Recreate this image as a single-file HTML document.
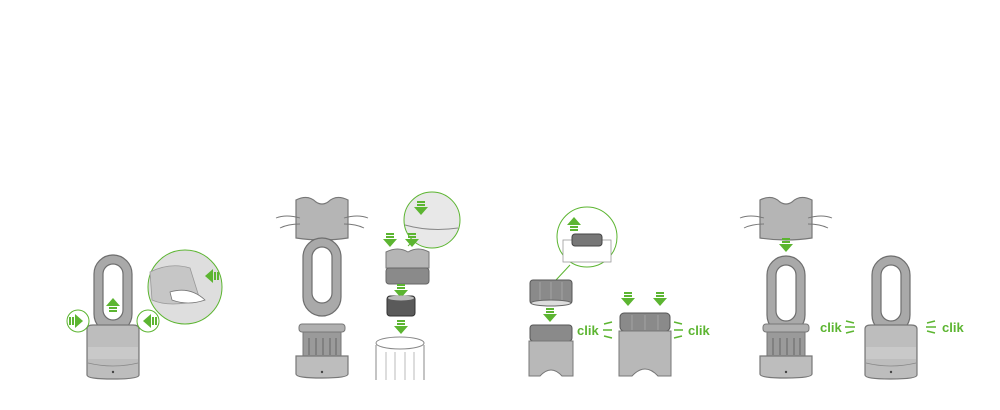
<!DOCTYPE html>
<html><head><meta charset="utf-8"><style>
html,body{margin:0;padding:0;background:#fff}
svg{display:block}
text{font-family:"Liberation Sans",sans-serif;font-weight:bold;fill:#5cb531;font-size:13px}
</style></head><body>
<svg width="1000" height="410" viewBox="0 0 1000 410" xmlns="http://www.w3.org/2000/svg">
<defs>
<g id="ad"><rect x="-4" y="-9" width="8" height="2" fill="#5cb531"/><rect x="-4" y="-6" width="8" height="2" fill="#5cb531"/><polygon points="-7,-3 7,-3 0,5" fill="#5cb531"/></g>
<g id="loop">
<rect x="-19" y="0" width="38" height="78" rx="19" fill="#a9a9a9" stroke="#6e6e6e" stroke-width="1.2"/>
<rect x="-10" y="9" width="20" height="56" rx="10" fill="#fff" stroke="#6e6e6e" stroke-width="1.2"/>
</g>
<g id="body">
<path d="M-26,4 Q-26,0 -20,0 L20,0 Q26,0 26,4 L26,50 Q26,54 0,54 Q-26,54 -26,50 Z" fill="#bdbdbd" stroke="#777" stroke-width="1.2"/>
<rect x="-25" y="22" width="50" height="12" fill="#c9c9c9"/>
<path d="M-25,38 Q0,44 25,38" fill="none" stroke="#888" stroke-width="0.8"/>
<circle cx="0" cy="47" r="1.2" fill="#444"/>
</g>
<g id="stripped">
<rect x="-23" y="0" width="46" height="8" rx="3" fill="#b0b0b0" stroke="#777"/>
<rect x="-19" y="8" width="38" height="24" fill="#9a9a9a" stroke="#777"/>
<g stroke="#666" stroke-width="1"><line x1="-13" y1="14" x2="-13" y2="31"/><line x1="-6" y1="14" x2="-6" y2="31"/><line x1="1" y1="14" x2="1" y2="31"/><line x1="8" y1="14" x2="8" y2="31"/><line x1="14" y1="14" x2="14" y2="31"/></g>
<path d="M-26,32 L26,32 L26,50 Q26,54 0,54 Q-26,54 -26,50 Z" fill="#bdbdbd" stroke="#777" stroke-width="1.2"/>
<circle cx="0" cy="48" r="1.2" fill="#444"/>
</g>
<g id="cap">
<path d="M-26,4 Q-14,-2 -6,6 Q0,10 6,6 Q14,-2 26,4 L26,42 Q0,46 -26,42 Z" fill="#b5b5b5" stroke="#777" stroke-width="1.2"/>
<path d="M-46,22 Q-36,18 -22,22 M-42,32 Q-34,28 -22,28 M46,22 Q36,18 22,22 M42,32 Q34,28 22,28" fill="none" stroke="#777" stroke-width="0.9"/>
</g>
</defs>

<!-- Section 1 -->
<use href="#loop" x="113" y="255"/>
<use href="#body" x="113" y="325"/>
<g transform="translate(113,303) rotate(180)"><use href="#ad"/></g>
<circle cx="78" cy="321" r="11" fill="#fff" stroke="#5cb531"/>
<g transform="translate(78,321) rotate(-90)"><use href="#ad"/></g>
<circle cx="148" cy="321" r="11" fill="#fff" stroke="#5cb531"/>
<g transform="translate(148,321) rotate(90)"><use href="#ad"/></g>
<circle cx="185" cy="287" r="37" fill="#dedede" stroke="#5cb531"/>
<path d="M150,272 Q170,262 190,268 L200,300 Q170,308 152,300 Z" fill="#c6c6c6" stroke="#999" stroke-width="0.8"/>
<path d="M170,292 Q190,286 205,300 Q188,306 172,300 Z" fill="#fff" stroke="#777" stroke-width="0.8"/>
<g transform="translate(210,276) rotate(90)"><use href="#ad"/></g>

<!-- Section 2 -->
<use href="#cap" x="322" y="196"/>
<g transform="translate(321,247) rotate(180)"><use href="#ad"/></g>
<use href="#loop" x="322" y="238"/>
<use href="#stripped" x="322" y="324"/>
<circle cx="432" cy="220" r="28" fill="#e8e8e8" stroke="#5cb531"/>
<path d="M405,225 Q430,232 458,228" fill="none" stroke="#888"/>
<use href="#ad" x="421" y="210"/>
<line x1="414" y1="240" x2="408" y2="246" stroke="#5cb531"/>
<use href="#ad" x="390" y="242"/><use href="#ad" x="412" y="242"/>
<path d="M386,252 Q398,246 408,252 Q418,246 429,252 L429,268 L386,268 Z" fill="#b5b5b5" stroke="#777"/>
<rect x="386" y="268" width="43" height="16" rx="3" fill="#8a8a8a" stroke="#666"/>
<use href="#ad" x="401" y="293"/>
<rect x="387" y="296" width="28" height="20" rx="3" fill="#5a5a5a" stroke="#333"/>
<ellipse cx="401" cy="298" rx="13" ry="2.5" fill="#bbb"/>
<use href="#ad" x="401" y="329"/>
<path d="M376,345 L376,380 M424,345 L424,380" stroke="#888" fill="none"/>
<ellipse cx="400" cy="343" rx="24" ry="6" fill="#fff" stroke="#888"/>
<g stroke="#bbb"><line x1="386" y1="352" x2="386" y2="380"/><line x1="395" y1="352" x2="395" y2="380"/><line x1="405" y1="352" x2="405" y2="380"/><line x1="414" y1="352" x2="414" y2="380"/></g>

<!-- Section 3 -->
<circle cx="587" cy="237" r="30" fill="#fff" stroke="#5cb531"/>
<rect x="563" y="240" width="48" height="22" fill="#fff" stroke="#999" stroke-width="0.8"/>
<rect x="572" y="234" width="30" height="12" rx="3" fill="#777" stroke="#444"/>
<use href="#ad" x="574" y="230" transform="rotate(180 574 226)"/>
<line x1="570" y1="265" x2="556" y2="280" stroke="#5cb531"/>
<rect x="530" y="280" width="42" height="24" rx="3" fill="#8a8a8a" stroke="#555"/>
<g stroke="#aaa" stroke-width="0.8"><line x1="540" y1="282" x2="540" y2="302"/><line x1="551" y1="282" x2="551" y2="302"/><line x1="562" y1="282" x2="562" y2="302"/></g>
<ellipse cx="551" cy="303" rx="20" ry="3" fill="#ddd" stroke="#666"/>
<use href="#ad" x="550" y="317"/>
<rect x="530" y="325" width="42" height="16" rx="3" fill="#8a8a8a" stroke="#555"/>
<path d="M529,341 L573,341 L573,376 L562,376 Q551,364 540,376 L529,376 Z" fill="#b8b8b8" stroke="#777"/>
<text x="577" y="335">clik</text>
<path d="M604,324 L612,322 M603,330 L612,330 M604,336 L612,338" stroke="#5cb531" stroke-width="1.5"/>
<use href="#ad" x="628" y="301"/><use href="#ad" x="660" y="301"/>
<rect x="620" y="313" width="50" height="18" rx="4" fill="#8a8a8a" stroke="#555"/>
<g stroke="#aaa" stroke-width="0.8"><line x1="632" y1="315" x2="632" y2="330"/><line x1="645" y1="315" x2="645" y2="330"/><line x1="658" y1="315" x2="658" y2="330"/></g>
<path d="M619,331 L671,331 L671,376 L658,376 Q645,362 632,376 L619,376 Z" fill="#b8b8b8" stroke="#777"/>
<path d="M674,322 L682,324 M674,330 L683,330 M674,338 L682,336" stroke="#5cb531" stroke-width="1.5"/>
<text x="688" y="335">clik</text>

<!-- Section 4 -->
<use href="#cap" x="786" y="196"/>
<use href="#ad" x="786" y="247"/>
<use href="#loop" x="786" y="256"/>
<use href="#stripped" x="786" y="324"/>
<text x="820" y="332">clik</text>
<path d="M846,321 L854,323 M845,327 L855,327 M846,333 L854,331" stroke="#5cb531" stroke-width="1.5"/>
<use href="#loop" x="891" y="256"/>
<use href="#body" x="891" y="325"/>
<path d="M935,321 L927,323 M936,327 L926,327 M935,333 L927,331" stroke="#5cb531" stroke-width="1.5"/>
<text x="942" y="332">clik</text>
</svg>
</body></html>
